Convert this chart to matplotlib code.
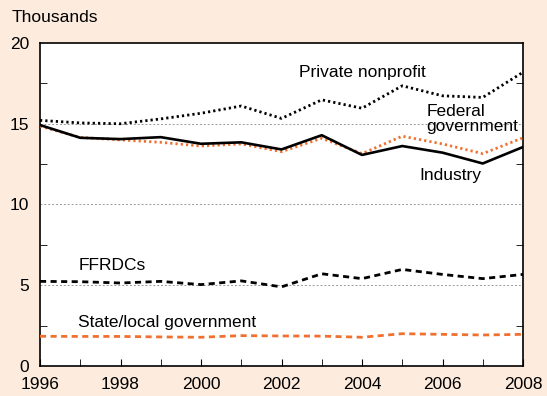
import matplotlib
matplotlib.use("Agg")
import matplotlib.pyplot as plt
from matplotlib.ticker import MultipleLocator

years = list(range(1996, 2009))
private_nonprofit = [15.21, 15.05, 15.0, 15.3, 15.65, 16.1, 15.33, 16.48, 15.96, 17.35, 16.73, 16.63, 18.19]
industry = [14.92, 14.13, 14.05, 14.17, 13.76, 13.85, 13.41, 14.29, 13.07, 13.62, 13.21, 12.54, 13.56]
federal_gov = [14.85, 14.15, 14.0, 13.85, 13.62, 13.75, 13.27, 14.1, 13.15, 14.23, 13.75, 13.15, 14.13]
ffrdcs = [5.24, 5.22, 5.14, 5.24, 5.04, 5.27, 4.9, 5.71, 5.41, 5.98, 5.67, 5.41, 5.67]
state_local = [1.84, 1.83, 1.83, 1.8, 1.78, 1.88, 1.86, 1.85, 1.78, 2.0, 1.96, 1.92, 1.96]
xtick_labels = ["1996", "1998", "2000", "2002", "2004", "2006", "2008"]

plt.rcParams['font.family'] = ['Liberation Sans', 'DejaVu Sans']
BG = "#FDEBDD"
ORANGE = "#F07030"

fig = plt.figure(figsize=(5.47, 3.96), dpi=100, facecolor=BG)
ax = fig.add_axes([40/547, 1-366/396, (523-40)/547, (366-43)/396])
ax.set_facecolor("white")

for y in [5, 10, 15]:
    ax.axhline(y, color="#999999", lw=0.7, ls=(0, (2, 2)), zorder=1)

ax.plot(years, state_local, color=ORANGE, lw=2, ls=(0, (2.2, 1.6)), zorder=3)
ax.plot(years, ffrdcs, color="black", lw=2, ls=(0, (2.2, 1.6)), zorder=3)
ax.plot(years, federal_gov, color=ORANGE, lw=2, ls=(0, (0.8, 1.1)), zorder=3)
ax.plot(years, industry, color="black", lw=1.9, zorder=4)
ax.plot(years, private_nonprofit, color="black", lw=2, ls=(0, (0.8, 1.1)), zorder=3)

ax.set_xlim(1996, 2008)
ax.set_ylim(0, 20)
ax.set_xticks(list(range(1996, 2009, 2)))
ax.set_xticklabels(xtick_labels)
ax.xaxis.set_minor_locator(MultipleLocator(1))
ax.set_yticks([0, 5, 10, 15, 20])
ax.yaxis.set_minor_locator(MultipleLocator(2.5))
ax.tick_params(axis="both", which="both", direction="in", labelsize=12.5, color="black")
ax.tick_params(axis="x", which="both", length=5, top=False, pad=8)
ax.tick_params(axis="y", which="major", length=0, pad=8)
ax.tick_params(axis="y", which="minor", length=5, right=True, left=True)
for s in ax.spines.values():
    s.set_linewidth(1.2)

fs = 12.5
ax.text(2004.0, 18.2, "Private nonprofit", ha="center", va="center", fontsize=fs)
ax.text(2005.6, 15.3, "Federal\ngovernment", ha="left", va="center", fontsize=fs, linespacing=0.95)
ax.text(2006.2, 11.8, "Industry", ha="center", va="center", fontsize=fs)
ax.text(1996.95, 6.2, "FFRDCs", ha="left", va="center", fontsize=fs)
ax.text(1996.95, 2.7, "State/local government", ha="left", va="center", fontsize=fs)
fig.text(12/547, 1-17/396, "Thousands", ha="left", va="center", fontsize=fs)

fig.savefig("out.png", dpi=100, facecolor=BG)
